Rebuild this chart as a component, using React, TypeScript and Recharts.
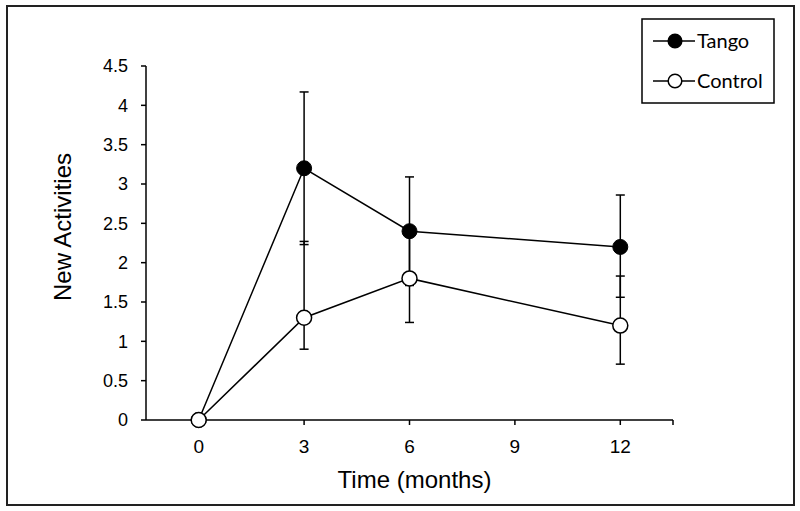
import React from 'react';
import { LineChart, Line, XAxis, YAxis, ErrorBar, Legend, Label } from 'recharts';

const months = [0, 3, 6, 12];
const tango = [0, 3.2, 2.4, 2.2];
const control = [0, 1.3, 1.8, 1.2];
// [below, above]
const tangoErr = [[0, 0], [0.97, 0.97], [0.69, 0.69], [0.64, 0.66]];
const controlErr = [[0, 0], [0.4, 0.97], [0.56, 0.56], [0.49, 0.63]];

const xTicks = [0, 3, 6, 9, 12, 13.5];
const yTicks = [0, 0.5, 1, 1.5, 2, 2.5, 3, 3.5, 4, 4.5];

const data = months.map((m, i) => ({
  month: m,
  tango: tango[i],
  control: control[i],
  tangoErr: tangoErr[i],
  controlErr: controlErr[i],
}));

const axisFont = '"Liberation Sans", Arial, sans-serif';

function LegendBox() {
  const rows = [
    { name: 'Tango', fill: '#000', y: 23 },
    { name: 'Control', fill: '#fff', y: 63 },
  ];
  return (
    <svg width={134} height={86}>
      <rect x={1} y={1} width={132} height={84} fill="#fff" stroke="#000" strokeWidth={1.5} />
      {rows.map((r) => (
        <g key={r.name}>
          <line x1={12} y1={r.y} x2={54} y2={r.y} stroke="#000" strokeWidth={1.5} />
          <circle cx={34} cy={r.y} r={6.8} fill={r.fill} stroke="#000" strokeWidth={1.5} />
          <text x={56} y={r.y + 6.5} fontSize={20} fontFamily="Lato, sans-serif" fill="#000">
            {r.name}
          </text>
        </g>
      ))}
    </svg>
  );
}

export default function App() {
  return (
    <div style={{ position: 'absolute', left: 0, top: 0, width: 800, height: 511, background: '#fff' }}>
      <div
        style={{
          position: 'absolute',
          left: 6,
          top: 5,
          width: 789,
          height: 501,
          border: '2px solid #222',
          boxSizing: 'border-box',
        }}
      />
      <div style={{ position: 'absolute', left: 0, top: 0 }}>
        <LineChart width={800} height={511} data={data} margin={{ top: 66, right: 127, bottom: 51, left: 0 }}>
          <XAxis
            dataKey="month"
            type="number"
            domain={[-1.5, 13.5]}
            ticks={xTicks}
            allowDataOverflow
            tickFormatter={(v: number) => (v > 12 ? '' : String(v))}
            height={40}
            tickSize={5}
            tickMargin={15}
            axisLine={{ stroke: '#000', strokeWidth: 1.5 }}
            tickLine={{ stroke: '#000', strokeWidth: 1.5 }}
            tick={{ fill: '#000', fontSize: 19, fontFamily: axisFont }}
          >
            <Label
              content={(props: any) => {
                const vb = props.viewBox;
                return (
                  <text
                    x={vb.x + vb.width / 2 + 5}
                    y={vb.y + 68}
                    textAnchor="middle"
                    fontSize={24}
                    fontFamily={axisFont}
                    fill="#000"
                  >
                    Time (months)
                  </text>
                );
              }}
            />
          </XAxis>
          <YAxis
            type="number"
            domain={[0, 4.5]}
            ticks={yTicks}
            width={146}
            tickSize={5}
            tickMargin={13}
            axisLine={{ stroke: '#000', strokeWidth: 1.5 }}
            tickLine={{ stroke: '#000', strokeWidth: 1.5 }}
            tick={{ fill: '#000', fontSize: 18, fontFamily: axisFont }}
          >
            <Label
              content={(props: any) => {
                const vb = props.viewBox;
                const cx = vb.x + 62;
                const cy = vb.y + vb.height / 2 - 16;
                return (
                  <text
                    x={cx}
                    y={cy}
                    transform={`rotate(-90 ${cx} ${cy})`}
                    textAnchor="middle"
                    dominantBaseline="central"
                    fontSize={24}
                    fontFamily={axisFont}
                    fill="#000"
                  >
                    New Activities
                  </text>
                );
              }}
            />
          </YAxis>
          <Legend
            layout="horizontal"
            verticalAlign="middle"
            align="center"
            content={() => <LegendBox />}
            wrapperStyle={{ position: 'absolute', left: 641, top: 18, width: 134, height: 86 }}
          />
          <Line
            type="linear"
            dataKey="tango"
            stroke="#000"
            strokeWidth={1.5}
            dot={{ r: 7.5, fill: '#000', stroke: '#000', strokeWidth: 1 }}
            activeDot={false}
            isAnimationActive={false}
          >
            <ErrorBar dataKey="tangoErr" direction="y" width={4.5} stroke="#000" strokeWidth={1.5} />
          </Line>
          <Line
            type="linear"
            dataKey="control"
            stroke="#000"
            strokeWidth={1.5}
            dot={{ r: 7.5, fill: '#fff', stroke: '#000', strokeWidth: 1.5 }}
            activeDot={false}
            isAnimationActive={false}
          >
            <ErrorBar dataKey="controlErr" direction="y" width={4.5} stroke="#000" strokeWidth={1.5} />
          </Line>
        </LineChart>
      </div>
    </div>
  );
}
